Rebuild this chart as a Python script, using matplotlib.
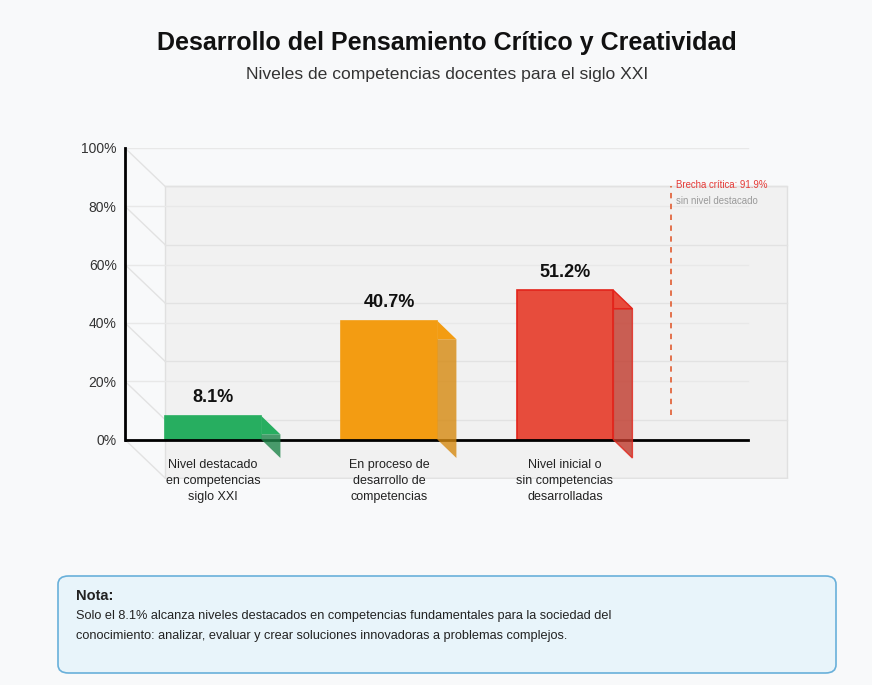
import matplotlib.pyplot as plt
from matplotlib.patches import Rectangle, Polygon, FancyBboxPatch

plt.rcParams["font.family"] = ["Liberation Sans", "DejaVu Sans"]

# data
categories = ["Nivel destacado\nen competencias\nsiglo XXI",
              "En proceso de\ndesarrollo de\ncompetencias",
              "Nivel inicial o\nsin competencias\ndesarrolladas"]
values = [8.1, 40.7, 51.2]
front_colors = ["#27ae60", "#f39c12", "#e74c3c"]
side_colors = ["#1e8449", "#d68910", "#c0392b"]
y_ticks = [0, 20, 40, 60, 80, 100]
gap_value = 91.9
gap_line = (8.4, 86.9)

# geometry (data units)
X0, X_FRONT, X_BACK = -0.5, 3.04, 3.26
DX, DY = 0.227, -13.1          # depth of the back wall
SX, SY = 0.108, -6.3           # depth of bars
BAR_W = 0.55
BG = "#f8f9fa"

fig = plt.figure(figsize=(8.72, 6.85), dpi=100, facecolor=BG)
ax = fig.add_axes([125 / 872, (685 - 479) / 685, 664 / 872, 331 / 685])
ax.set_facecolor("none")
ax.set_xlim(X0, X0 + 664 / 176)
ax.set_ylim(DY - 0.4, 100)
for s in ax.spines.values():
    s.set_visible(False)

# back wall + grid
ax.add_patch(Rectangle((X0 + DX, DY), X_BACK - X0 - DX, 100,
                       facecolor="#f1f1f1", edgecolor="#e0e0e0", lw=1, zorder=0))
for t in y_ticks:
    ax.plot([X0 + DX, X_BACK], [t + DY, t + DY], color="#e2e2e2", lw=1, zorder=1)
    ax.plot([X0, X_FRONT], [t, t], color="#e8e8e8", lw=1, zorder=1)
    ax.plot([X0, X0 + DX], [t, t + DY], color="#e2e2e2", lw=1, zorder=1,
            clip_on=False)

# gap annotation
ax.plot([2.602, 2.602], gap_line, color="#e2673f", lw=1.3, ls=(0, (3, 3)), zorder=2)
ax.text(2.63, gap_line[1] + 0.3, f"Brecha crítica: {gap_value}%", color="#e53935",
        fontsize=6.9, ha="left", va="center", zorder=3)
ax.text(2.63, gap_line[1] - 5.2, "sin nivel destacado", color="#9a9a9a",
        fontsize=6.9, ha="left", va="center", zorder=3)

# axes lines
ax.plot([X0, X0], [0, 100], color="black", lw=2, zorder=4, clip_on=False)
ax.plot([X0, X_FRONT], [0, 0], color="black", lw=2, zorder=4)

# bars
for i, (v, fc, sc) in enumerate(zip(values, front_colors, side_colors)):
    xl, xr = i - BAR_W / 2, i + BAR_W / 2
    ec = "#e3241b" if i == 2 else fc
    ax.add_patch(Rectangle((xl, 0), BAR_W, v, facecolor=fc, edgecolor=ec,
                           lw=1.2, zorder=3))
    ax.add_patch(Polygon([(xr, v + SY), (xr + SX, v + SY), (xr + SX, SY), (xr, 0)],
                         closed=True, facecolor=sc, edgecolor=ec if i == 2 else "none",
                         lw=1, alpha=0.8, zorder=5))
    ax.add_patch(Polygon([(xr, v), (xr + SX, v + SY), (xr, v + SY)], closed=True,
                         facecolor=fc, edgecolor=ec if i == 2 else "none", lw=1,
                         zorder=5))
    ax.text(i, v + 3.3, f"{v}%", ha="center", va="bottom", fontsize=13,
            fontweight="bold", color="#111111", zorder=6)
    ax.text(i, -6.6, categories[i], ha="center", va="top", fontsize=9,
            color="#222222", linespacing=1.45, zorder=6)

ax.set_xticks([])
ax.set_yticks(y_ticks)
ax.set_yticklabels([f"{t}%" for t in y_ticks])
ax.tick_params(axis="y", length=0, pad=6, labelsize=10, labelcolor="#333333")

# titles
fig.text(447 / 872, 1 - 43 / 685, "Desarrollo del Pensamiento Crítico y Creatividad",
         ha="center", va="center", fontsize=18, fontweight="bold", color="#111111")
fig.text(447 / 872, 1 - 74 / 685, "Niveles de competencias docentes para el siglo XXI",
         ha="center", va="center", fontsize=12.6, color="#333333")

# note box
fig.patches.append(FancyBboxPatch((58 / 872, 1 - 673 / 685), 778 / 872, 97 / 685,
                                  boxstyle="round,pad=0,rounding_size=0.012",
                                  transform=fig.transFigure, facecolor="#e8f4fa",
                                  edgecolor="#69b0da", lw=1.2))
fig.text(76 / 872, 1 - 596 / 685, "Nota:", ha="left", va="center", fontsize=10.5,
         fontweight="bold", color="#222222")
fig.text(76 / 872, 1 - 616 / 685,
         "Solo el 8.1% alcanza niveles destacados en competencias fundamentales para la sociedad del",
         ha="left", va="center", fontsize=9.2, color="#222222")
fig.text(76 / 872, 1 - 636 / 685,
         "conocimiento: analizar, evaluar y crear soluciones innovadoras a problemas complejos.",
         ha="left", va="center", fontsize=9.2, color="#222222")

fig.savefig("out.png", dpi=100, facecolor=BG)
